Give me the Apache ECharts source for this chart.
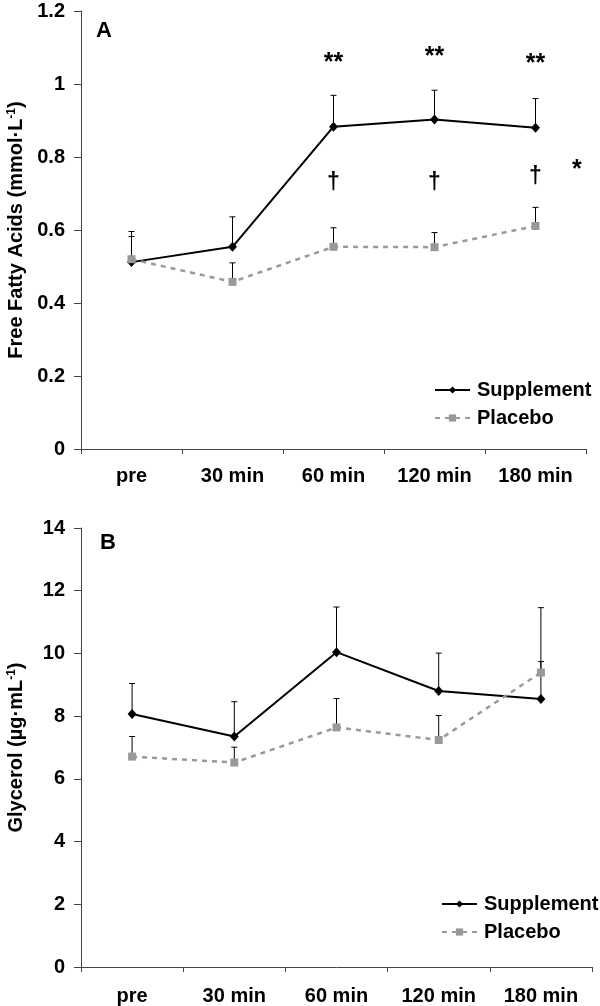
<!DOCTYPE html>
<html><head><meta charset="utf-8">
<script src="https://cdn.jsdelivr.net/npm/echarts@6/dist/echarts.min.js"></script>
<style>html,body{margin:0;padding:0;background:#fff}#c{width:600px;height:1006px}</style>
</head><body><div id="c"></div>
<script>
var categories = ['pre', '30 min', '60 min', '120 min', '180 min'];
// Panel A: Free fatty acids (mmol/L)
var ffaSupplement = [0.512, 0.554, 0.883, 0.903, 0.880];
var ffaSupplementUpper = [0.582, 0.636, 0.969, 0.983, 0.960];
var ffaPlacebo = [0.520, 0.458, 0.554, 0.553, 0.611];
var ffaPlaceboUpper = [0.596, 0.510, 0.606, 0.593, 0.662];
var ffaTicks = {min: 0, max: 1.2, interval: 0.2};
// Panel B: Glycerol (ug/mL)
var glySupplement = [8.07, 7.35, 10.04, 8.80, 8.55];
var glySupplementUpper = [9.04, 8.46, 11.48, 10.01, 9.74];
var glyPlacebo = [6.71, 6.52, 7.64, 7.24, 9.39];
var glyPlaceboUpper = [7.35, 7.01, 8.56, 8.02, 11.46];
var glyTicks = {min: 0, max: 14, interval: 2};
// significance markers in panel A: [categoryIndex, value, text]
var ffaStars = [[2, 1.057, '**'], [3, 1.074, '**'], [4, 1.055, '**']];
var ffaDaggers = [[2, 0.729, '†'], [3, 0.729, '†'], [4, 0.745, '†']];

var FONT = '"Liberation Sans", Arial, sans-serif';
var axisColor = '#444';
var gray = '#999999';

function errSeries(xi, yi, means, uppers) {
  var data = means.map(function (m, i) { return [i, m, uppers[i]]; });
  return {
    type: 'custom', xAxisIndex: xi, yAxisIndex: yi, z: 1, silent: true,
    data: data,
    renderItem: function (params, api) {
      var p0 = api.coord([api.value(0), api.value(1)]);
      var p1 = api.coord([api.value(0), api.value(2)]);
      var st = {stroke: '#000', lineWidth: 1};
      return {type: 'group', children: [
        {type: 'line', shape: {x1: p0[0], y1: p0[1], x2: p1[0], y2: p1[1]}, style: st},
        {type: 'line', shape: {x1: p1[0] - 3, y1: p1[1], x2: p1[0] + 3, y2: p1[1]}, style: st}
      ]};
    }
  };
}
function textSeries(data, size) {
  return {
    type: 'custom', xAxisIndex: 0, yAxisIndex: 0, z: 5, silent: true, data: data,
    renderItem: function (params, api) {
      var p = api.coord([api.value(0), api.value(1)]);
      return {type: 'text', x: p[0], y: p[1], style: {text: data[params.dataIndex][2], fontSize: size, fontWeight: 'bold', fontFamily: FONT, fill: '#000', align: 'center', verticalAlign: 'middle'}};
    }
  };
}
function lineSeries(name, xi, yi, d, isPlacebo) {
  return {
    name: name, type: 'line', xAxisIndex: xi, yAxisIndex: yi, data: d,
    z: isPlacebo ? 4 : 3,
    symbol: isPlacebo ? 'rect' : 'diamond',
    symbolSize: isPlacebo ? 8 : [9, 10],
    showSymbol: true, animation: false,
    lineStyle: isPlacebo ? {color: gray, width: 2.5, type: [5, 5]} : {color: '#000', width: 2},
    itemStyle: {color: isPlacebo ? gray : '#000', borderWidth: 0}
  };
}
function yAxisCfg(gi, t, nameRich) {
  return {
    type: 'value', gridIndex: gi, min: t.min, max: t.max, interval: t.interval,
    axisLine: {show: true, lineStyle: {color: axisColor, width: 1}},
    axisTick: {show: true, length: 7, lineStyle: {color: axisColor}},
    splitLine: {show: false},
    axisLabel: {fontSize: 20, fontWeight: 'bold', color: '#000', fontFamily: FONT, margin: 16},
    name: nameRich, nameLocation: 'middle', nameRotate: 90, nameGap: 54,
    nameTextStyle: {
      rich: {
        a: {fontSize: 20, fontWeight: 'bold', fontFamily: FONT, color: '#000'},
        s: {fontSize: 12, fontWeight: 'bold', fontFamily: FONT, color: '#000', verticalAlign: 'top', padding: [0, 0, 9, 0]}
      }
    }
  };
}
function xAxisCfg(gi) {
  return {
    type: 'category', gridIndex: gi, data: categories,
    axisLine: {show: true, lineStyle: {color: axisColor, width: 1}},
    axisTick: {show: true, length: 5, lineStyle: {color: axisColor}},
    axisLabel: {fontSize: 20, fontWeight: 'bold', color: '#000', fontFamily: FONT, margin: gi === 0 ? 17 : 19, interval: 0},
    splitLine: {show: false}
  };
}
function legendCfg(left, top, names) {
  return {
    orient: 'vertical', left: left, top: top, itemWidth: 35, itemHeight: 9, itemGap: 8,
    textStyle: {fontSize: 20, fontWeight: 'bold', fontFamily: FONT, color: '#000', padding: [0, 0, 0, 2]},
    data: names
  };
}

var chart = echarts.init(document.getElementById('c'), null, {renderer: 'canvas'});
var option = {
  animation: false,
  backgroundColor: '#fff',
  grid: [
    {left: 81, top: 11, width: 505, height: 438, outerBoundsMode: 'none', containLabel: false},
    {left: 81, top: 528, width: 511, height: 439, outerBoundsMode: 'none', containLabel: false}
  ],
  xAxis: [xAxisCfg(0), xAxisCfg(1)],
  yAxis: [
    yAxisCfg(0, ffaTicks, '{a|Free Fatty Acids (mmol·L}{s|-1}{a|)}'),
    yAxisCfg(1, glyTicks, '{a|Glycerol (µg·mL}{s|-1}{a|)}')
  ],
  legend: [
    legendCfg(429, 375, ['Supplement', 'Placebo']),
    legendCfg(436, 889, ['Supplement ', 'Placebo '])
  ],
  series: [
    errSeries(0, 0, ffaSupplement, ffaSupplementUpper),
    errSeries(0, 0, ffaPlacebo, ffaPlaceboUpper),
    lineSeries('Supplement', 0, 0, ffaSupplement, false),
    lineSeries('Placebo', 0, 0, ffaPlacebo, true),
    textSeries(ffaStars, 25),
    textSeries(ffaDaggers, 23),
    errSeries(1, 1, glySupplement, glySupplementUpper),
    errSeries(1, 1, glyPlacebo, glyPlaceboUpper),
    lineSeries('Supplement ', 1, 1, glySupplement, false),
    lineSeries('Placebo ', 1, 1, glyPlacebo, true)
  ],
  graphic: [
    {type: 'text', left: 96, top: 20, style: {text: 'A', fontSize: 22, fontWeight: 'bold', fontFamily: FONT, fill: '#000'}},
    {type: 'text', left: 100, top: 532, style: {text: 'B', fontSize: 22, fontWeight: 'bold', fontFamily: FONT, fill: '#000'}},
    {type: 'text', left: 572, top: 158, style: {text: '*', fontSize: 25, fontWeight: 'bold', fontFamily: FONT, fill: '#000'}}
  ]
};
chart.setOption(option);
</script></body></html>
